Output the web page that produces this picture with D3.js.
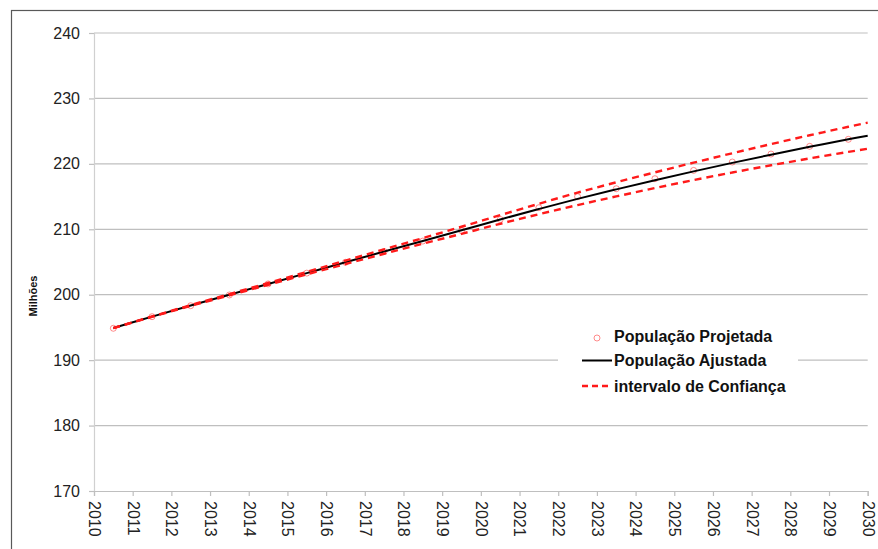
<!DOCTYPE html>
<html>
<head>
<meta charset="utf-8">
<script src="https://cdn.jsdelivr.net/npm/d3@7"></script>
<style>
  html, body { margin: 0; padding: 0; background: #fff; }
  svg { display: block; }
  text { font-family: "Liberation Sans", Arial, sans-serif; }
</style>
</head>
<body>
<svg id="chart" width="878" height="549"></svg>
<script>
// ---- data ----
const yearsProj = [2010.5, 2011.5, 2012.5, 2013.5, 2014.5, 2015.5, 2016.5, 2017.5, 2018.5, 2019.5,
                   2020.5, 2021.5, 2022.5, 2023.5, 2024.5, 2025.5, 2026.5, 2027.5, 2028.5, 2029.5];
const projetada = [194.87, 196.64, 198.32, 199.96, 201.65, 203.3, 204.95, 206.6, 208.2, 209.8,
                   211.5, 213.3, 214.98, 216.2, 217.73, 219.0, 220.28, 221.5, 222.68, 223.75];

const yearsFit = [2010.5, 2011.5, 2012.5, 2013.5, 2014.5, 2015.5, 2016.5, 2017.5, 2018.5, 2019.5,
                  2020.5, 2021.5, 2022.5, 2023.5, 2024.5, 2025.5, 2026.5, 2027.5, 2028.5, 2029.5, 2030];
const ajustada = [194.9, 196.65, 198.35, 200.0, 201.65, 203.3, 204.95, 206.6, 208.22, 209.85,
                  211.5, 213.1, 214.65, 216.1, 217.5, 218.85, 220.15, 221.4, 222.6, 223.75, 224.3];
const icSup = [194.9, 196.68, 198.41, 200.1, 201.79, 203.49, 205.21, 206.94, 208.65, 210.39,
               212.16, 213.9, 215.6, 217.18, 218.7, 220.18, 221.62, 223.02, 224.37, 225.67, 226.3];
const icInf = [194.9, 196.62, 198.29, 199.9, 201.51, 203.11, 204.69, 206.26, 207.79, 209.31,
               210.84, 212.3, 213.7, 215.02, 216.3, 217.52, 218.68, 219.78, 220.83, 221.83, 222.3];

const xTicks = d3.range(2010, 2031);
const yTicks = [170, 180, 190, 200, 210, 220, 230, 240];
const legendLabels = ["População Projetada", "População Ajustada", "intervalo de Confiança"];
const yTitle = "Milhões";

// ---- layout ----
const svg = d3.select("#chart");
const mLeft = 94, mRight = 867.7, mTop = 33, mBottom = 491;
const x = d3.scaleLinear().domain([2010, 2030]).range([mLeft, mRight]);
const y = d3.scaleLinear().domain([170, 240]).range([mBottom, mTop]);

// outer frame
svg.append("rect").attr("x", 11.5).attr("y", 10.5).attr("width", 900).attr("height", 600)
  .attr("fill", "none").attr("stroke", "#595959").attr("stroke-width", 1.2);

// gridlines
svg.append("g").selectAll("line").data(yTicks.filter(d => d > 170)).join("line")
  .attr("x1", mLeft).attr("x2", mRight).attr("y1", d => y(d)).attr("y2", d => y(d))
  .attr("stroke", "#bfbfbf").attr("stroke-width", 1.2);

// y axis
const yAxis = d3.axisLeft(y).tickValues(yTicks).tickSize(5).tickPadding(9).tickFormat(d3.format("d"));
const gy = svg.append("g").attr("transform", `translate(${mLeft},0)`).call(yAxis);
gy.select(".domain").attr("stroke", "#d0d0d0").attr("stroke-width", 1.2);
gy.selectAll(".tick line").attr("stroke", "#bfbfbf").attr("stroke-width", 1.2);
gy.selectAll(".tick text").attr("font-size", 16).attr("fill", "#222")
  .style("font-family", "'Liberation Sans', Arial, sans-serif");

// x axis
const xAxis = d3.axisBottom(x).tickValues(xTicks).tickSize(5).tickFormat(d3.format("d"));
const gx = svg.append("g").attr("transform", `translate(0,${mBottom})`).call(xAxis);
gx.select(".domain").attr("stroke", "#bfbfbf").attr("stroke-width", 1.2);
gx.selectAll(".tick line").attr("stroke", "#bfbfbf").attr("stroke-width", 1.2);
gx.selectAll(".tick text").attr("font-size", 16).attr("fill", "#222")
  .style("font-family", "'Liberation Sans', Arial, sans-serif")
  .attr("transform", "rotate(90)").attr("text-anchor", "start")
  .attr("x", 10).attr("y", 0).attr("dy", "0.35em");

// y title
svg.append("text").attr("transform", "translate(37,296) rotate(-90)")
  .attr("text-anchor", "middle").attr("font-size", 11).attr("font-weight", "bold")
  .attr("fill", "#111").text(yTitle);

// projected points
svg.append("g").selectAll("circle").data(yearsProj).join("circle")
  .attr("cx", d => x(d)).attr("cy", (d, i) => y(projetada[i])).attr("r", 3)
  .attr("fill", "none").attr("stroke", "#ff3030").attr("stroke-opacity", 0.55).attr("stroke-width", 1);

const line = arr => d3.line().x((d, i) => x(yearsFit[i])).y(d => y(d)).curve(d3.curveCatmullRom)(arr);

svg.append("path").attr("d", line(ajustada)).attr("fill", "none")
  .attr("stroke", "#000").attr("stroke-width", 2);
[icSup, icInf].forEach(arr => {
  svg.append("path").attr("d", line(arr)).attr("fill", "none")
    .attr("stroke", "#ff1a1a").attr("stroke-width", 2.4).attr("stroke-dasharray", "7,5");
});

// legend
const lg = svg.append("g");
lg.append("rect").attr("x", 558).attr("y", 318).attr("width", 240).attr("height", 84).attr("fill", "#fff");
const ly = [336, 360.5, 386];
lg.append("circle").attr("cx", 597).attr("cy", ly[0] + 2).attr("r", 3)
  .attr("fill", "none").attr("stroke", "#ff3030").attr("stroke-opacity", 0.55).attr("stroke-width", 1);
lg.append("line").attr("x1", 582).attr("x2", 612).attr("y1", ly[1]).attr("y2", ly[1])
  .attr("stroke", "#000").attr("stroke-width", 2);
lg.append("line").attr("x1", 582).attr("x2", 612).attr("y1", ly[2]).attr("y2", ly[2])
  .attr("stroke", "#ff1a1a").attr("stroke-width", 2.4).attr("stroke-dasharray", "6,4");
lg.selectAll("text").data(legendLabels).join("text")
  .attr("x", 614).attr("y", (d, i) => ly[i]).attr("dy", "0.35em")
  .attr("font-size", 16).attr("font-weight", "bold").attr("fill", "#111").text(d => d);
</script>
</body>
</html>
